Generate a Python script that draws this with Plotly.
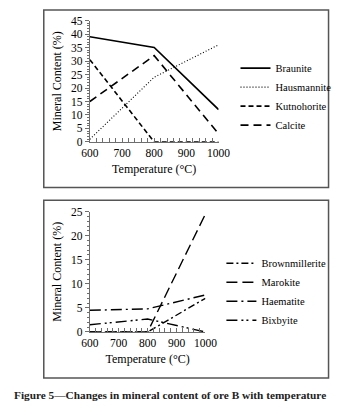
import plotly.graph_objects as go

temps = [600, 800, 1000]

# Top panel
braunite = [39, 35, 12]
hausmannite = [1, 24, 36]
kutnohorite = [30.5, 0, 0]
calcite = [15, 32, 3]

# Bottom panel
brownmillerite = [0, 0, 7]
marokite = [0, 0, 24.5]
haematite = [4.5, 4.8, 7.7]
bixbyite = [1.5, 2.7, 0]

top_y_ticks = list(range(0, 50, 5))
bot_y_ticks = list(range(0, 30, 5))
x_ticks = [600, 700, 800, 900, 1000]

W, H = 349, 415
def px(x): return x / W
def py(y): return 1 - y / H

FONT = "Liberation Serif"
fig = go.Figure()

top_series = [
    ("Braunite", braunite, dict(color="black", width=1.6, dash="solid")),
    ("Hausmannite", hausmannite, dict(color="black", width=1.1, dash="1px,2px")),
    ("Kutnohorite", kutnohorite, dict(color="black", width=1.6, dash="5px,3px")),
    ("Calcite", calcite, dict(color="black", width=1.6, dash="8px,5px")),
]
for name, vals, ln in top_series:
    fig.add_trace(go.Scatter(x=temps, y=vals, mode="lines", name=name, line=ln,
                             xaxis="x", yaxis="y", legend="legend"))

bot_series = [
    ("Brownmillerite", brownmillerite, dict(color="black", width=1.4, dash="7px,3px,2px,3px")),
    ("Marokite", marokite, dict(color="black", width=1.4, dash="11px,5px")),
    ("Haematite", haematite, dict(color="black", width=1.4, dash="11px,4px,2px,4px")),
    ("Bixbyite", bixbyite, dict(color="black", width=1.4, dash="11px,4px,2px,3px,2px,4px")),
]
for name, vals, ln in bot_series:
    fig.add_trace(go.Scatter(x=temps, y=vals, mode="lines", name=name, line=ln,
                             xaxis="x2", yaxis="y2", legend="legend2"))

axcol = "#6e6e6e"
xcommon = dict(range=[600, 1000], tickvals=x_ticks, showgrid=False, zeroline=False,
               showline=True, linecolor=axcol, linewidth=1, ticks="inside", ticklen=4,
               tickcolor=axcol, minor=dict(dtick=20, ticks="inside", ticklen=4, tickcolor=axcol),
               tickfont=dict(family=FONT, size=11.5, color="black"),
               title=dict(text="Temperature (°C)", font=dict(family=FONT, size=12, color="black"), standoff=6))
ycommon = dict(showgrid=False, zeroline=False, showline=True, linecolor=axcol, linewidth=1,
               ticks="outside", ticklen=4, tickcolor=axcol,
               minor=dict(dtick=1, ticks="outside", ticklen=2, tickcolor=axcol),
               tickfont=dict(family=FONT, size=11.5, color="black"),
               title=dict(text="Mineral Content (%)", font=dict(family=FONT, size=12, color="black"), standoff=6))

fig.update_layout(
    width=W, height=H, margin=dict(l=0, r=0, t=0, b=0),
    paper_bgcolor="white", plot_bgcolor="white",
    font=dict(family=FONT, size=12, color="black"),
    xaxis=dict(domain=[px(86), px(223)], anchor="y", **xcommon),
    yaxis=dict(domain=[py(140), py(15)], anchor="x", range=[0, 45], tickvals=top_y_ticks, **ycommon),
    xaxis2=dict(domain=[px(86), px(209)], anchor="y2", **xcommon),
    yaxis2=dict(domain=[py(335.7), py(211.7)], anchor="x2", range=[0, 25], tickvals=bot_y_ticks, **ycommon),
    legend=dict(x=px(241), y=py(49), xanchor="left", yanchor="top", bgcolor="rgba(0,0,0,0)",
                font=dict(family=FONT, size=10.5), itemwidth=30, tracegroupgap=0),
    legend2=dict(x=px(226), y=py(250), xanchor="left", yanchor="top", bgcolor="rgba(0,0,0,0)",
                 font=dict(family=FONT, size=10.5), itemwidth=30, tracegroupgap=0),
    shapes=[
        dict(type="rect", xref="paper", yref="paper", x0=px(37), x1=px(340), y0=py(187), y1=py(4),
             line=dict(color="#555555", width=1.5)),
        dict(type="rect", xref="paper", yref="paper", x0=px(37), x1=px(340), y0=py(383), y1=py(200),
             line=dict(color="#555555", width=1.5)),
    ],
    annotations=[
        dict(text="<b>Figure 5—Changes in mineral content of ore B with temperature</b>",
             xref="paper", yref="paper", x=px(3), y=py(401), xanchor="left", yanchor="middle",
             showarrow=False, font=dict(family=FONT, size=11.3, color="#222222")),
    ],
    showlegend=True,
)

fig.write_html("out.html", post_script="document.body.style.margin='0';",
               config={"displayModeBar": False})
